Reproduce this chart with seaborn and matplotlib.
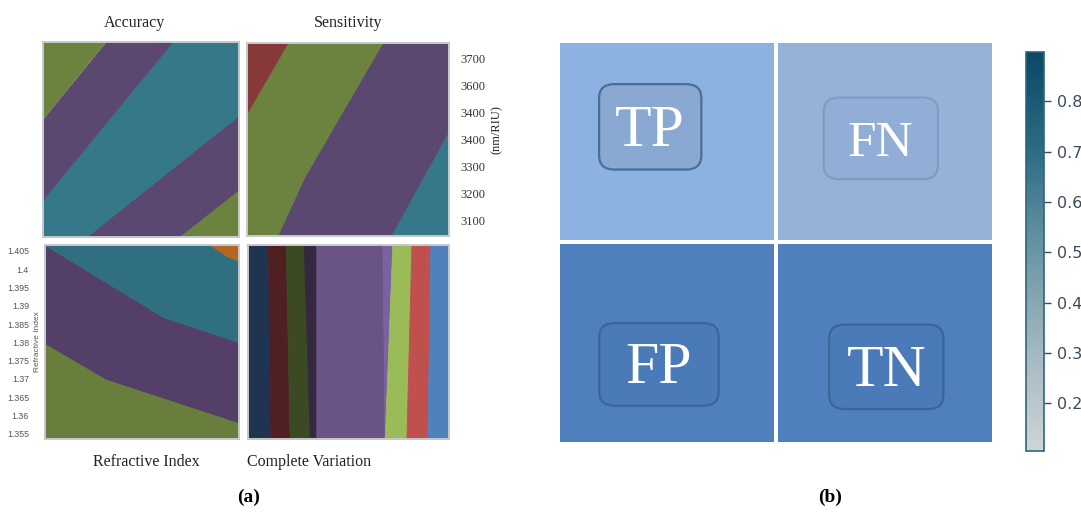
import numpy as np
import matplotlib
matplotlib.use("Agg")
import matplotlib.pyplot as plt
import seaborn as sns
from matplotlib.colors import ListedColormap, LinearSegmentedColormap, Normalize
from matplotlib.cm import ScalarMappable
from matplotlib.patches import FancyBboxPatch

sns.set_theme(style="white")
plt.rcParams["font.family"] = ["Liberation Serif", "DejaVu Serif"]

W, H = 1081, 515

# ---------------- (a) contour bands ----------------
# band boundaries as fractions of panel width/height, listed bottom -> top
acc_u = [0.0, 1.0]
acc_bounds = [
    [-0.545, 0.246],
    [-0.175, 0.626],
    [0.195, 1.418],
    [0.605, 1.835],
]
acc_colors = ["#6c833f", "#5a4871", "#35788a", "#5a4871", "#6c833f"]

sens_u = [0.0, 0.287, 1.0]
sens_bounds = [
    [-1.351, -0.807, 0.544],
    [-0.349, 0.306, 1.589],
    [0.632, 1.152, 2.442],
]
sens_colors = ["#35788a", "#5a4871", "#6c833f", "#873838"]
sens_lim = (3041, 3756)
sens_ticks = [3100, 3200, 3300, 3400, 3500, 3600, 3700]
sens_labels = ["3100", "3200", "3300", "3400", "3400", "3600", "3700"]

ri_u = [0.0, 0.315, 0.611, 0.852, 0.940, 1.0]
ri_bounds = [
    [0.494, 0.310, 0.213, 0.134, 0.105, 0.085],
    [1.000, 0.808, 0.628, 0.548, 0.519, 0.499],
    [1.580, 1.365, 1.164, 1.000, 0.940, 0.918],
]
ri_colors = ["#687e3c", "#533f68", "#306f80", "#b5661f"]
ri_lim = (1.3536, 1.4066)
ri_ticks = [1.355, 1.36, 1.365, 1.37, 1.375, 1.38, 1.385, 1.39, 1.395, 1.4, 1.405]
ri_labels = ["1.355", "1.36", "1.365", "1.37", "1.375", "1.38",
             "1.385", "1.39", "1.395", "1.4", "1.405"]

# vertical stripes: boundary position at [bottom, top], left -> right
cv_v = [0.0, 1.0]
cv_bounds = [
    [0.111, 0.0995],
    [0.207, 0.188],
    [0.307, 0.277],
    [0.340, 0.340],
    [0.680, 0.669],
    [0.680, 0.718],
    [0.788, 0.813],
    [0.893, 0.907],
]
cv_colors = ["#1f3450", "#4f1f22", "#3b4a23", "#34273f", "#6a5387",
             "#7c61a0", "#9bbb59", "#c0504d", "#4f81bd"]

# ---------------- (b) confusion-matrix layout ----------------
cell_labels = [["TP", "FN"], ["FP", "TN"]]
cell_colors = [["#8cb2e1", "#95b2d7"], ["#4f80bd", "#4f80bd"]]
box_centers = [(0.423, 0.426), (1.481, 0.483), (0.463, 1.605), (1.506, 1.617)]
box_sizes = [(0.469, 0.424), (0.524, 0.405), (0.548, 0.410), (0.524, 0.419)]
box_fill = ["#8aa9d2", "#90aed6", "#4a7ab7", "#4a7ab7"]
box_edge = ["#4e6d96", "#7e9cc6", "#3b6599", "#3b6599"]
label_sizes = [43, 37, 43, 43]

cbar_range = (0.105, 0.898)
cbar_ticks = [0.2, 0.3, 0.4, 0.5, 0.6, 0.7, 0.8]
cbar_colors = ["#cfd4d7", "#a3b8bf", "#6a96a4", "#2e6c84", "#0c4766"]


def px_axes(fig, x0, y0, x1, y1):
    return fig.add_axes([x0 / W, 1 - y1 / H, (x1 - x0) / W, (y1 - y0) / H])


def draw_bands(ax, pos, bounds, colors, vertical=False):
    pos = np.asarray(pos, float)
    edges = ([np.full_like(pos, -5.0)] + [np.asarray(b, float) for b in bounds]
             + [np.full_like(pos, 5.0)])
    for lo, hi, c in zip(edges[:-1], edges[1:], colors):
        if vertical:
            ax.fill_betweenx(pos, lo, hi, color=c, lw=0.6, edgecolor=c)
        else:
            ax.fill_between(pos, lo, hi, color=c, lw=0.6, edgecolor=c)
    ax.set_xlim(0, 1)
    ax.set_ylim(0, 1)
    ax.set_xticks([])
    ax.set_yticks([])
    for s in ax.spines.values():
        s.set_visible(True)
        s.set_color("#c6c9cd")
        s.set_linewidth(1.4)


def lin_map(lim):
    lo, hi = lim
    return (lambda v: lo + v * (hi - lo), lambda s: (s - lo) / (hi - lo))


fig = plt.figure(figsize=(W / 100, H / 100), dpi=100)
fig.patch.set_facecolor("white")

ax_acc = px_axes(fig, 43, 42, 239, 237)
draw_bands(ax_acc, acc_u, acc_bounds, acc_colors)

ax_sens = px_axes(fig, 247, 43, 449, 236)
draw_bands(ax_sens, sens_u, sens_bounds, sens_colors)
sec = ax_sens.secondary_yaxis("right", functions=lin_map(sens_lim))
sec.set_yticks(sens_ticks, labels=sens_labels)
sec.tick_params(length=0, pad=8, labelsize=9, labelcolor="#333333")
for s in sec.spines.values():
    s.set_visible(False)

ax_ri = px_axes(fig, 45, 245, 239, 439)
draw_bands(ax_ri, ri_u, ri_bounds, ri_colors)
sec2 = ax_ri.secondary_yaxis("left", functions=lin_map(ri_lim))
sec2.set_yticks(ri_ticks, labels=ri_labels)
sec2.tick_params(length=0, pad=11.5, labelsize=6.3, labelcolor="#555555")
for t in sec2.get_yticklabels():
    t.set_family("Liberation Sans")
for s in sec2.spines.values():
    s.set_visible(False)

ax_cv = px_axes(fig, 248, 245, 449, 439)
draw_bands(ax_cv, cv_v, cv_bounds, cv_colors, vertical=True)

serif = dict(color="#222222", ha="center", va="center")
fig.text(134 / W, 1 - 23 / H, "Accuracy", fontsize=11.5, **serif)
fig.text(348 / W, 1 - 23 / H, "Sensitivity", fontsize=11.5, **serif)
fig.text(497 / W, 1 - 130 / H, "(nm/RIU)", fontsize=9, rotation=90, **serif)
fig.text(37.7 / W, 1 - 342 / H, "Refractive Index", fontsize=6, rotation=90,
         family="Liberation Sans", color="#595959", ha="center", va="center")
fig.text(146.7 / W, 1 - 462.3 / H, "Refractive Index", fontsize=11.5, **serif)
fig.text(309 / W, 1 - 462.3 / H, "Complete Variation", fontsize=11.5, **serif)
fig.text(249 / W, 1 - 497 / H, "(a)", fontsize=14, fontweight="bold",
         color="black", ha="center", va="center")
fig.text(830 / W, 1 - 497 / H, "(b)", fontsize=14, fontweight="bold",
         color="black", ha="center", va="center")

# ---------------- (b) heatmap ----------------
flat_colors = [c for row in cell_colors for c in row]
palette = list(dict.fromkeys(flat_colors))
codes = np.array([[palette.index(c) for c in row] for row in cell_colors])

ax_hm = px_axes(fig, 558, 41, 994, 444)
sns.heatmap(codes, ax=ax_hm, cmap=ListedColormap(palette), vmin=-0.5,
            vmax=len(palette) - 0.5, cbar=False, linewidths=1.6,
            linecolor="white", xticklabels=False, yticklabels=False)

flat_labels = [l for row in cell_labels for l in row]
for lab, (cx, cy), (bw, bh), fc, ec, fs in zip(flat_labels, box_centers, box_sizes,
                                                box_fill, box_edge, label_sizes):
    ax_hm.add_patch(FancyBboxPatch((cx - bw / 2, cy - bh / 2), bw, bh,
                                   boxstyle="round,pad=0,rounding_size=0.07",
                                   fc=fc, ec=ec, lw=1.6, zorder=3))
    ax_hm.text(cx, cy + 0.025, lab, fontsize=fs, color="white", ha="center",
               va="center", zorder=4)

cax = px_axes(fig, 1026, 52, 1044, 451)
cmap_bar = LinearSegmentedColormap.from_list("bar", cbar_colors)
cb = fig.colorbar(ScalarMappable(norm=Normalize(*cbar_range), cmap=cmap_bar),
                  cax=cax, ticks=cbar_ticks)
cb.ax.set_yticklabels([f"{t:.1f}" for t in cbar_ticks])
cb.outline.set_edgecolor("#2d6680")
cb.outline.set_linewidth(1.2)
cb.ax.tick_params(length=5, width=1, color="#3d4b58", pad=4, labelsize=11.5,
                  labelcolor="#3d4b58")
for t in cb.ax.get_yticklabels():
    t.set_family("DejaVu Sans")

fig.savefig("out.png", dpi=100, facecolor="white")
